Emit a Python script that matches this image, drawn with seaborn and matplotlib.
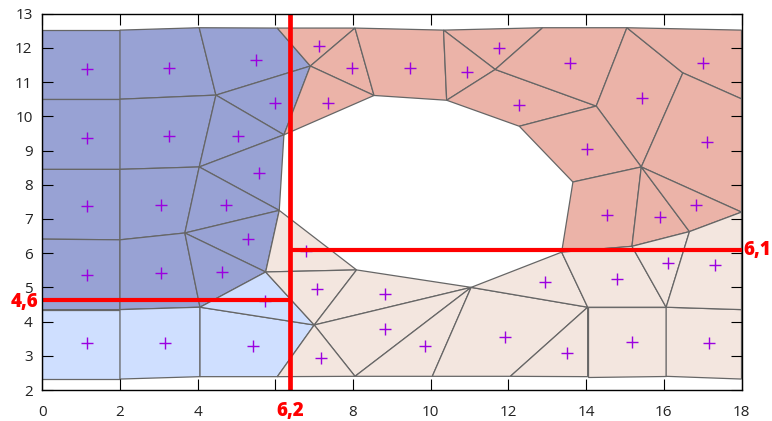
# Partitioned domain with split lines and cell centres
import pandas as pd
import matplotlib
matplotlib.use('Agg')
import matplotlib.pyplot as plt
import seaborn as sns

# Mesh cells, grouped by sub-domain
dark_blue_cells = [
    [(0, 12.52), (2, 12.52), (2, 10.5), (0, 10.5)],
    [(2, 12.52), (4.04, 12.59), (4.47, 10.62), (2, 10.5)],
    [(4.04, 12.59), (6.05, 12.58), (6.9, 11.47), (4.47, 10.62)],
    [(4.47, 10.62), (6.9, 11.47), (6.22, 9.46)],
    [(0, 10.5), (2, 10.5), (2, 8.45), (0, 8.45)],
    [(2, 10.5), (4.47, 10.62), (4.04, 8.52), (2, 8.45)],
    [(4.47, 10.62), (6.22, 9.46), (4.04, 8.52)],
    [(4.04, 8.52), (6.22, 9.46), (6.1, 7.25)],
    [(0, 8.45), (2, 8.45), (2, 6.39), (0, 6.41)],
    [(2, 8.45), (4.04, 8.52), (3.67, 6.59), (2, 6.39)],
    [(4.04, 8.52), (6.1, 7.25), (3.67, 6.59)],
    [(3.67, 6.59), (6.1, 7.25), (5.75, 5.45)],
    [(0, 6.41), (2, 6.39), (2, 4.35), (0, 4.35)],
    [(2, 6.39), (3.67, 6.59), (4.06, 4.42), (2, 4.35)],
    [(3.67, 6.59), (5.75, 5.45), (4.06, 4.42)],
]
light_blue_cells = [
    [(0, 4.35), (2, 4.35), (2, 2.32), (0, 2.32)],
    [(2, 4.35), (4.06, 4.42), (4.06, 2.39), (2, 2.32)],
    [(4.06, 4.42), (7, 3.9), (6.05, 2.39), (4.06, 2.39)],
    [(4.06, 4.42), (5.75, 5.45), (7, 3.9)],
]
red_cells = [
    [(6.05, 12.58), (8.05, 12.58), (6.9, 11.47)],
    [(8.05, 12.58), (8.54, 10.61), (6.9, 11.47)],
    [(6.9, 11.47), (8.54, 10.61), (6.22, 9.46)],
    [(8.05, 12.58), (10.33, 12.52), (10.41, 10.47), (8.54, 10.61)],
    [(10.33, 12.52), (12.88, 12.59), (11.66, 11.37)],
    [(10.33, 12.52), (11.66, 11.37), (10.41, 10.47)],
    [(10.41, 10.47), (11.66, 11.37), (14.26, 10.3), (12.28, 9.71)],
    [(11.66, 11.37), (12.88, 12.59), (15.05, 12.59), (14.26, 10.3)],
    [(14.26, 10.3), (15.05, 12.59), (16.49, 11.27), (15.42, 8.52)],
    [(15.05, 12.59), (18, 12.52), (18, 10.51), (16.49, 11.27)],
    [(16.49, 11.27), (18, 10.51), (18, 7.2), (15.42, 8.52)],
    [(12.28, 9.71), (14.26, 10.3), (15.42, 8.52), (13.66, 8.08)],
    [(13.66, 8.08), (15.42, 8.52), (15.18, 6.2), (13.37, 6.03)],
    [(15.42, 8.52), (16.66, 6.63), (15.18, 6.2)],
    [(15.42, 8.52), (18, 7.2), (16.66, 6.63)],
]
beige_cells = [
    [(5.75, 5.45), (6.1, 7.25), (8.09, 5.51)],
    [(5.75, 5.45), (8.09, 5.51), (7, 3.9)],
    [(8.09, 5.51), (11.04, 5), (7, 3.9)],
    [(7, 3.9), (11.04, 5), (8.05, 2.4)],
    [(8.05, 2.4), (11.04, 5), (10.04, 2.4)],
    [(7, 3.9), (8.05, 2.4), (6.05, 2.39)],
    [(10.04, 2.4), (11.04, 5), (14.04, 4.42), (12.05, 2.4)],
    [(12.05, 2.4), (14.04, 4.42), (14.04, 2.39)],
    [(14.04, 2.39), (14.04, 4.42), (16.06, 4.42), (16.06, 2.4)],
    [(16.06, 2.4), (16.06, 4.42), (18, 4.35), (18, 2.32)],
    [(11.04, 5), (13.37, 6.03), (14.04, 4.42)],
    [(13.37, 6.03), (15.18, 6.2), (16.06, 4.42), (14.04, 4.42)],
    [(15.18, 6.2), (16.66, 6.63), (16.06, 4.42)],
    [(16.66, 6.63), (18, 7.2), (18, 4.35), (16.06, 4.42)],
]

# Cell centres
centre_x = [1.14, 3.26, 5.49, 5.99, 7.13, 7.97, 7.36, 1.14, 3.26, 5.04, 5.59, 1.14, 3.06, 4.74,
            5.30, 1.14, 3.06, 4.62, 5.73, 6.78, 7.08, 8.82, 8.82, 7.17, 1.14, 3.16, 5.42,
            9.84, 11.92, 13.51, 12.95, 14.80, 16.10, 17.31, 15.18, 17.16, 14.55, 15.89, 16.83,
            9.46, 11.75, 10.93, 13.59, 12.28, 14.03, 15.43, 17.02, 17.11]
centre_y = [11.37, 11.42, 11.66, 10.40, 12.06, 11.42, 10.40, 9.38, 9.43, 9.43, 8.34, 7.38, 7.42, 7.42,
            6.40, 5.37, 5.42, 5.45, 4.59, 6.06, 4.94, 4.81, 3.78, 2.93, 3.36, 3.38, 3.29,
            3.28, 3.56, 3.08, 5.15, 5.25, 5.72, 5.64, 3.41, 3.38, 7.13, 7.05, 7.40,
            11.40, 12.00, 11.31, 11.56, 10.33, 9.05, 10.54, 11.57, 9.26]

# Split lines, where they are drawn in the picture
split_x = 6.38
split_left_y = 4.63
split_right_y = 6.1

x_ticks = list(range(0, 19, 2))
x_tick_labels = ['0', '2', '4', '', '8', '10', '12', '14', '16', '18']
y_ticks = list(range(2, 14))

sns.set_theme(style="white")
plt.rcParams['font.family'] = ['Open Sans', 'DejaVu Sans']

fig = plt.figure(figsize=(7.72, 4.21), dpi=100)
ax = fig.add_axes([42.3 / 772, 1 - 390 / 421, (741.5 - 42.3) / 772, (390 - 13.7) / 421])

for cells, colour in [(dark_blue_cells, '#98a2d4'), (light_blue_cells, '#cfdfff'),
                      (red_cells, '#ebb3a8'), (beige_cells, '#f3e6df')]:
    for cell in cells:
        xs, ys = zip(*cell)
        ax.fill(xs, ys, facecolor=colour, edgecolor='#666666', linewidth=0.9, zorder=1)

centres = pd.DataFrame({'x': centre_x, 'y': centre_y})
sns.scatterplot(data=centres, x='x', y='y', marker='+', color='#9b00e0', s=64,
                linewidth=1.0, ax=ax, zorder=3)

ax.plot([split_x, split_x], [2, 13], color='#ff0000', linewidth=3.4, zorder=4, solid_capstyle='butt')
ax.plot([0, split_x], [split_left_y, split_left_y], color='#ff0000', linewidth=3.0, zorder=4, solid_capstyle='butt')
ax.plot([split_x, 18], [split_right_y, split_right_y], color='#ff0000', linewidth=3.0, zorder=4, solid_capstyle='butt')

ax.set_axisbelow(False)
ax.set_xlim(0, 18)
ax.set_ylim(2, 13)
ax.set_xticks(x_ticks, x_tick_labels)
ax.set_yticks(y_ticks)
ax.set_xlabel('')
ax.set_ylabel('')
ax.tick_params(direction='in', length=7.9, width=0.8, color='black', labelcolor='#222222',
               labelsize=11, top=True, right=True, bottom=True, left=True)
ax.tick_params(axis='x', pad=11)
ax.tick_params(axis='y', pad=7)
for spine in ax.spines.values():
    spine.set_visible(True)
    spine.set_color('black')
    spine.set_linewidth(1.0)
    spine.set_zorder(5)

label_style = dict(color='#ff0000', fontweight='heavy', fontsize=13.5, annotation_clip=False,
                   textcoords='offset points')
ax.annotate('6,2', xy=(split_x, 2), xytext=(0, -15), ha='center', va='center', **label_style)
ax.annotate('4,6', xy=(0, split_left_y), xytext=(-3, -1.5), ha='right', va='center', **label_style)
ax.annotate('6,1', xy=(18, split_right_y), xytext=(1.5, 0), ha='left', va='center', **label_style)

plt.savefig('out.png', dpi=100)
